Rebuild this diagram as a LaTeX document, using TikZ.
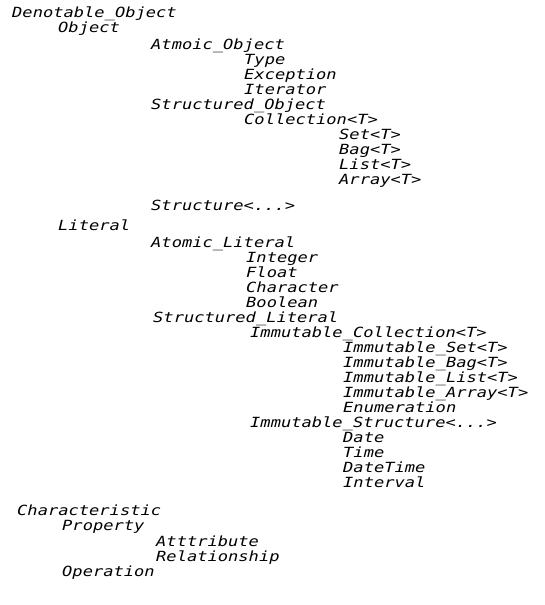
\documentclass[tikz,border=0pt]{standalone}
\usepackage{fontspec}
\setmonofont{DejaVu Sans Mono}[FakeStretch=1.22]

\begin{document}
\begin{tikzpicture}[x=1pt,y=-1pt]

% definitions
\tikzstyle{entry} = [anchor=base west, inner sep=0pt, font=\fontsize{14}{15}\ttfamily\itshape]

\useasboundingbox (0,0) rectangle (545,605);


% denotable objects
\node (dn) [entry] at (12,17) {Denotable\_Object};
\node (ob) [entry] at (58,32) {Object};
\node (ao) [entry] at (151,49) {Atmoic\_Object};
\node (ty) [entry] at (244,64) {Type};
\node (ex) [entry] at (244,79) {Exception};
\node (it) [entry] at (244,94) {Iterator};
\node (so) [entry] at (151,109) {Structured\_Object};
\node (co) [entry] at (244,124) {Collection<T>};
\node (se) [entry] at (339,139) {Set<T>};
\node (ba) [entry] at (339,154) {Bag<T>};
\node (li) [entry] at (339,169) {List<T>};
\node (ar) [entry] at (339,184) {Array<T>};
\node (st) [entry] at (151,210) {Structure<...>};


% literals
\node (lt) [entry] at (58,230) {Literal};
\node (al) [entry] at (151,247) {Atomic\_Literal};
\node (in) [entry] at (246,262) {Integer};
\node (fl) [entry] at (246,277) {Float};
\node (ch) [entry] at (246,292) {Character};
\node (bo) [entry] at (246,307) {Boolean};
\node (sl) [entry] at (153,322) {Structured\_Literal};
\node (ic) [entry] at (250,337) {Immutable\_Collection<T>};
\node (is) [entry] at (343,352) {Immutable\_Set<T>};
\node (ib) [entry] at (343,367) {Immutable\_Bag<T>};
\node (il) [entry] at (343,382) {Immutable\_List<T>};
\node (ia) [entry] at (343,397) {Immutable\_Array<T>};
\node (en) [entry] at (343,412) {Enumeration};
\node (ist) [entry] at (250,427) {Immutable\_Structure<...>};
\node (da) [entry] at (343,442) {Date};
\node (ti) [entry] at (343,457) {Time};
\node (dt) [entry] at (343,472) {DateTime};
\node (iv) [entry] at (343,487) {Interval};


% characteristics
\node (ca) [entry] at (17,515) {Characteristic};
\node (pr) [entry] at (62,530) {Property};
\node (at) [entry] at (156,546) {Atttribute};
\node (re) [entry] at (156,561) {Relationship};
\node (op) [entry] at (62,576) {Operation};

\end{tikzpicture}
\end{document}
